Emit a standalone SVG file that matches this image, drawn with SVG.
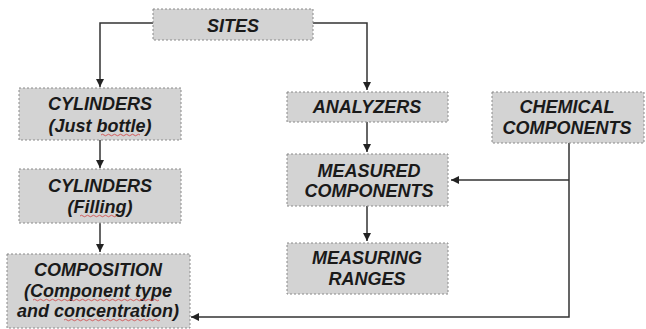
<svg xmlns="http://www.w3.org/2000/svg" width="646" height="329" viewBox="0 0 646 329">
<defs>
<style>
.box{fill:#d3d3d3;stroke:#8a8a8a;stroke-width:1;stroke-dasharray:2 2}
.t{font-family:"Liberation Sans",Arial,sans-serif;font-weight:bold;font-style:italic;font-size:18px;fill:#1a1a1a;text-anchor:middle}
.c{fill:none;stroke:#333;stroke-width:1.5}
.sq{fill:none;stroke:#d04040;stroke-width:0.8}
</style>
<marker id="ah" viewBox="0 0 10 10" refX="10" refY="5" markerWidth="8" markerHeight="8" markerUnits="userSpaceOnUse" orient="auto">
<path d="M0,0 L10,5 L0,10 z" fill="#222"/>
</marker>
</defs>
<rect width="646" height="329" fill="#fff"/>
<g id="connectors">
<path class="c" d="M153,23 H100 V87" marker-end="url(#ah)"/>
<path class="c" d="M313,23 H367 V90" marker-end="url(#ah)"/>
<path class="c" d="M100,140 V168" marker-end="url(#ah)"/>
<path class="c" d="M100,223 V252" marker-end="url(#ah)"/>
<path class="c" d="M367,122 V152" marker-end="url(#ah)"/>
<path class="c" d="M367,206 V241" marker-end="url(#ah)"/>
<path class="c" d="M569,143 V317 H191" marker-end="url(#ah)"/>
<path class="c" d="M569,180 H451" marker-end="url(#ah)"/>
</g>
<g id="sites">
<rect class="box" x="153" y="9" width="160" height="31"/>
<text class="t" x="233" y="32">SITES</text>
</g>
<g id="cylinders-bottle">
<rect class="box" x="19" y="88" width="162" height="52"/>
<text class="t" x="100" y="110">CYLINDERS</text>
<text class="t" x="100" y="132">(Just bottle)</text>
<path class="sq" d="M101,135 q1.5,-1.5 3,0 t3,0 t3,0 t3,0 t3,0 t3,0 t3,0 t3,0 t3,0 t3,0 t3,0 t3,0 t3,0"/>
</g>
<g id="cylinders-filling">
<rect class="box" x="19" y="169" width="162" height="54"/>
<text class="t" x="100" y="192">CYLINDERS</text>
<text class="t" x="100" y="213">(Filling)</text>
<path class="sq" d="M80,216 q1.5,-1.5 3,0 t3,0 t3,0 t3,0 t3,0 t3,0 t3,0 t3,0 t3,0 t3,0 t3,0 t3,0"/>
</g>
<g id="composition">
<rect class="box" x="7" y="254" width="183" height="74"/>
<text class="t" x="98" y="276">COMPOSITION</text>
<text class="t" x="98" y="297">(Component type</text>
<text class="t" x="98" y="317">and concentration)</text>
<path class="sq" d="M33,300 q1.5,-1.5 3,0 t3,0 t3,0 t3,0 t3,0 t3,0 t3,0 t3,0 t3,0 t3,0 t3,0 t3,0 t3,0 t3,0 t3,0 t3,0 t3,0 t3,0 t3,0 t3,0 t3,0 t3,0 t3,0 t3,0 t3,0 t3,0 t3,0 t3,0 t3,0 t3,0 t3,0 t3,0 t3,0 t3,0 t3,0 t3,0 t3,0 t3,0 t3,0 t3,0 t3,0 t3,0"/>
<path class="sq" d="M64,320 q1.5,-1.5 3,0 t3,0 t3,0 t3,0 t3,0 t3,0 t3,0 t3,0 t3,0 t3,0 t3,0 t3,0 t3,0 t3,0 t3,0 t3,0 t3,0 t3,0 t3,0 t3,0 t3,0 t3,0 t3,0 t3,0 t3,0 t3,0 t3,0 t3,0 t3,0 t3,0 t3,0 t3,0"/>
</g>
<g id="analyzers">
<rect class="box" x="287" y="92" width="161" height="30"/>
<text class="t" x="367" y="113">ANALYZERS</text>
</g>
<g id="measured-components">
<rect class="box" x="287" y="154" width="161" height="52"/>
<text class="t" x="369" y="177">MEASURED</text>
<text class="t" x="369" y="197">COMPONENTS</text>
</g>
<g id="measuring-ranges">
<rect class="box" x="287" y="243" width="161" height="51"/>
<text class="t" x="367" y="264">MEASURING</text>
<text class="t" x="367" y="285">RANGES</text>
</g>
<g id="chemical-components">
<rect class="box" x="492" y="92" width="152" height="51"/>
<text class="t" x="567" y="113">CHEMICAL</text>
<text class="t" x="567" y="134">COMPONENTS</text>
</g>
</svg>
